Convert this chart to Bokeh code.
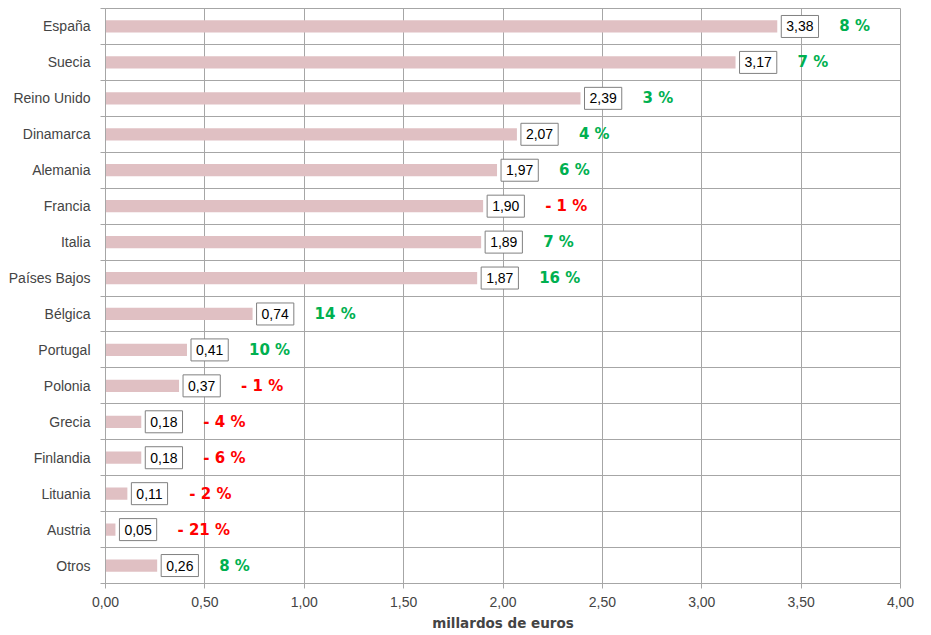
from bokeh.plotting import figure
from bokeh.models import ColumnDataSource, Range1d, FixedTicker, CustomJSTickFormatter
from bokeh.core.properties import value
from bokeh.embed import file_html
from bokeh.resources import INLINE

categories = ["España", "Suecia", "Reino Unido", "Dinamarca", "Alemania", "Francia",
              "Italia", "Países Bajos", "Bélgica", "Portugal", "Polonia", "Grecia",
              "Finlandia", "Lituania", "Austria", "Otros"]
values = [3.38, 3.17, 2.39, 2.07, 1.97, 1.90, 1.89, 1.87, 0.74, 0.41, 0.37, 0.18,
          0.18, 0.11, 0.05, 0.26]
changes = [8, 7, 3, 4, 6, -1, 7, 16, 14, 10, -1, -4, -6, -2, -21, 8]
x_ticks = [0, 0.5, 1, 1.5, 2, 2.5, 3, 3.5, 4]
x_title = "millardos de euros"

FONT = "Liberation Sans"
BOLD_FONT = "DejaVu Sans"
GRID = "#A6A6A6"
n = len(categories)
ys = [n - 1 - i for i in range(n)]

src = ColumnDataSource(dict(
    y=ys,
    v=values,
    lab=[f"{v:.2f}".replace(".", ",") for v in values],
    pct=[f"{c} %" if c >= 0 else f"- {abs(c)} %" for c in changes],
    col=["#00B050" if c >= 0 else "#FF0000" for c in changes],
))

p = figure(frame_width=795, frame_height=575,
           x_range=Range1d(0, 4), y_range=Range1d(-0.5, n - 0.5),
           output_backend="svg", toolbar_location=None,
           min_border_left=105, min_border_right=25, min_border_top=8, min_border_bottom=48)
p.background_fill_color = "white"
p.border_fill_color = "white"
p.outline_line_color = GRID

p.hbar(y="y", right="v", left=0, height=0.34, source=src,
       fill_color="#E0C0C3", line_color=None)

p.text(x="v", y="y", text="lab", source=src, x_offset=4, text_align="left",
       text_baseline="middle", text_font=value(FONT), text_font_size="14px",
       text_color="black", background_fill_color="white", border_line_color="#808080",
       padding=dict(left=5, right=5, top=6, bottom=6))

p.text(x="v", y="y", text="pct", source=src, x_offset=62, text_align="left",
       text_baseline="middle", text_font=value(BOLD_FONT), text_font_size="15px",
       text_font_style="bold", text_color="col")

# x axis
p.xaxis.ticker = FixedTicker(ticks=x_ticks)
p.xaxis.formatter = CustomJSTickFormatter(code="return tick.toFixed(2).replace('.', ',');")
p.xaxis.axis_label = x_title
p.xaxis.axis_label_text_font = BOLD_FONT
p.xaxis.axis_label_text_font_style = "bold"
p.xaxis.axis_label_text_font_size = "13.5px"
p.xaxis.axis_label_standoff = 5
p.xaxis.major_label_text_font = FONT
p.xaxis.major_label_text_font_size = "14px"
p.xaxis.major_label_standoff = 8
p.xaxis.major_tick_out = 5
p.xaxis.major_tick_in = 0
p.xaxis.minor_tick_line_color = None
p.xaxis.axis_line_color = GRID
p.xaxis.major_tick_line_color = GRID
p.xgrid.ticker = FixedTicker(ticks=x_ticks)
p.xgrid.grid_line_color = GRID

# y axis
bounds = [i - 0.5 for i in range(n + 1)]
yt = FixedTicker(ticks=ys, minor_ticks=bounds)
p.yaxis.ticker = yt
p.yaxis.major_label_overrides = {y: c for y, c in zip(ys, categories)}
p.yaxis.major_label_text_font = FONT
p.yaxis.major_label_text_font_size = "14px"
p.yaxis.major_tick_line_color = None
p.yaxis.major_tick_out = 0
p.yaxis.major_tick_in = 0
p.yaxis.major_label_standoff = 10
p.yaxis.minor_tick_out = 5
p.yaxis.minor_tick_in = 0
p.yaxis.minor_tick_line_color = GRID
p.yaxis.axis_line_color = GRID
p.ygrid.ticker = yt
p.ygrid.grid_line_color = None
p.ygrid.minor_grid_line_color = GRID

open("out.html", "w").write(file_html(p, INLINE))
